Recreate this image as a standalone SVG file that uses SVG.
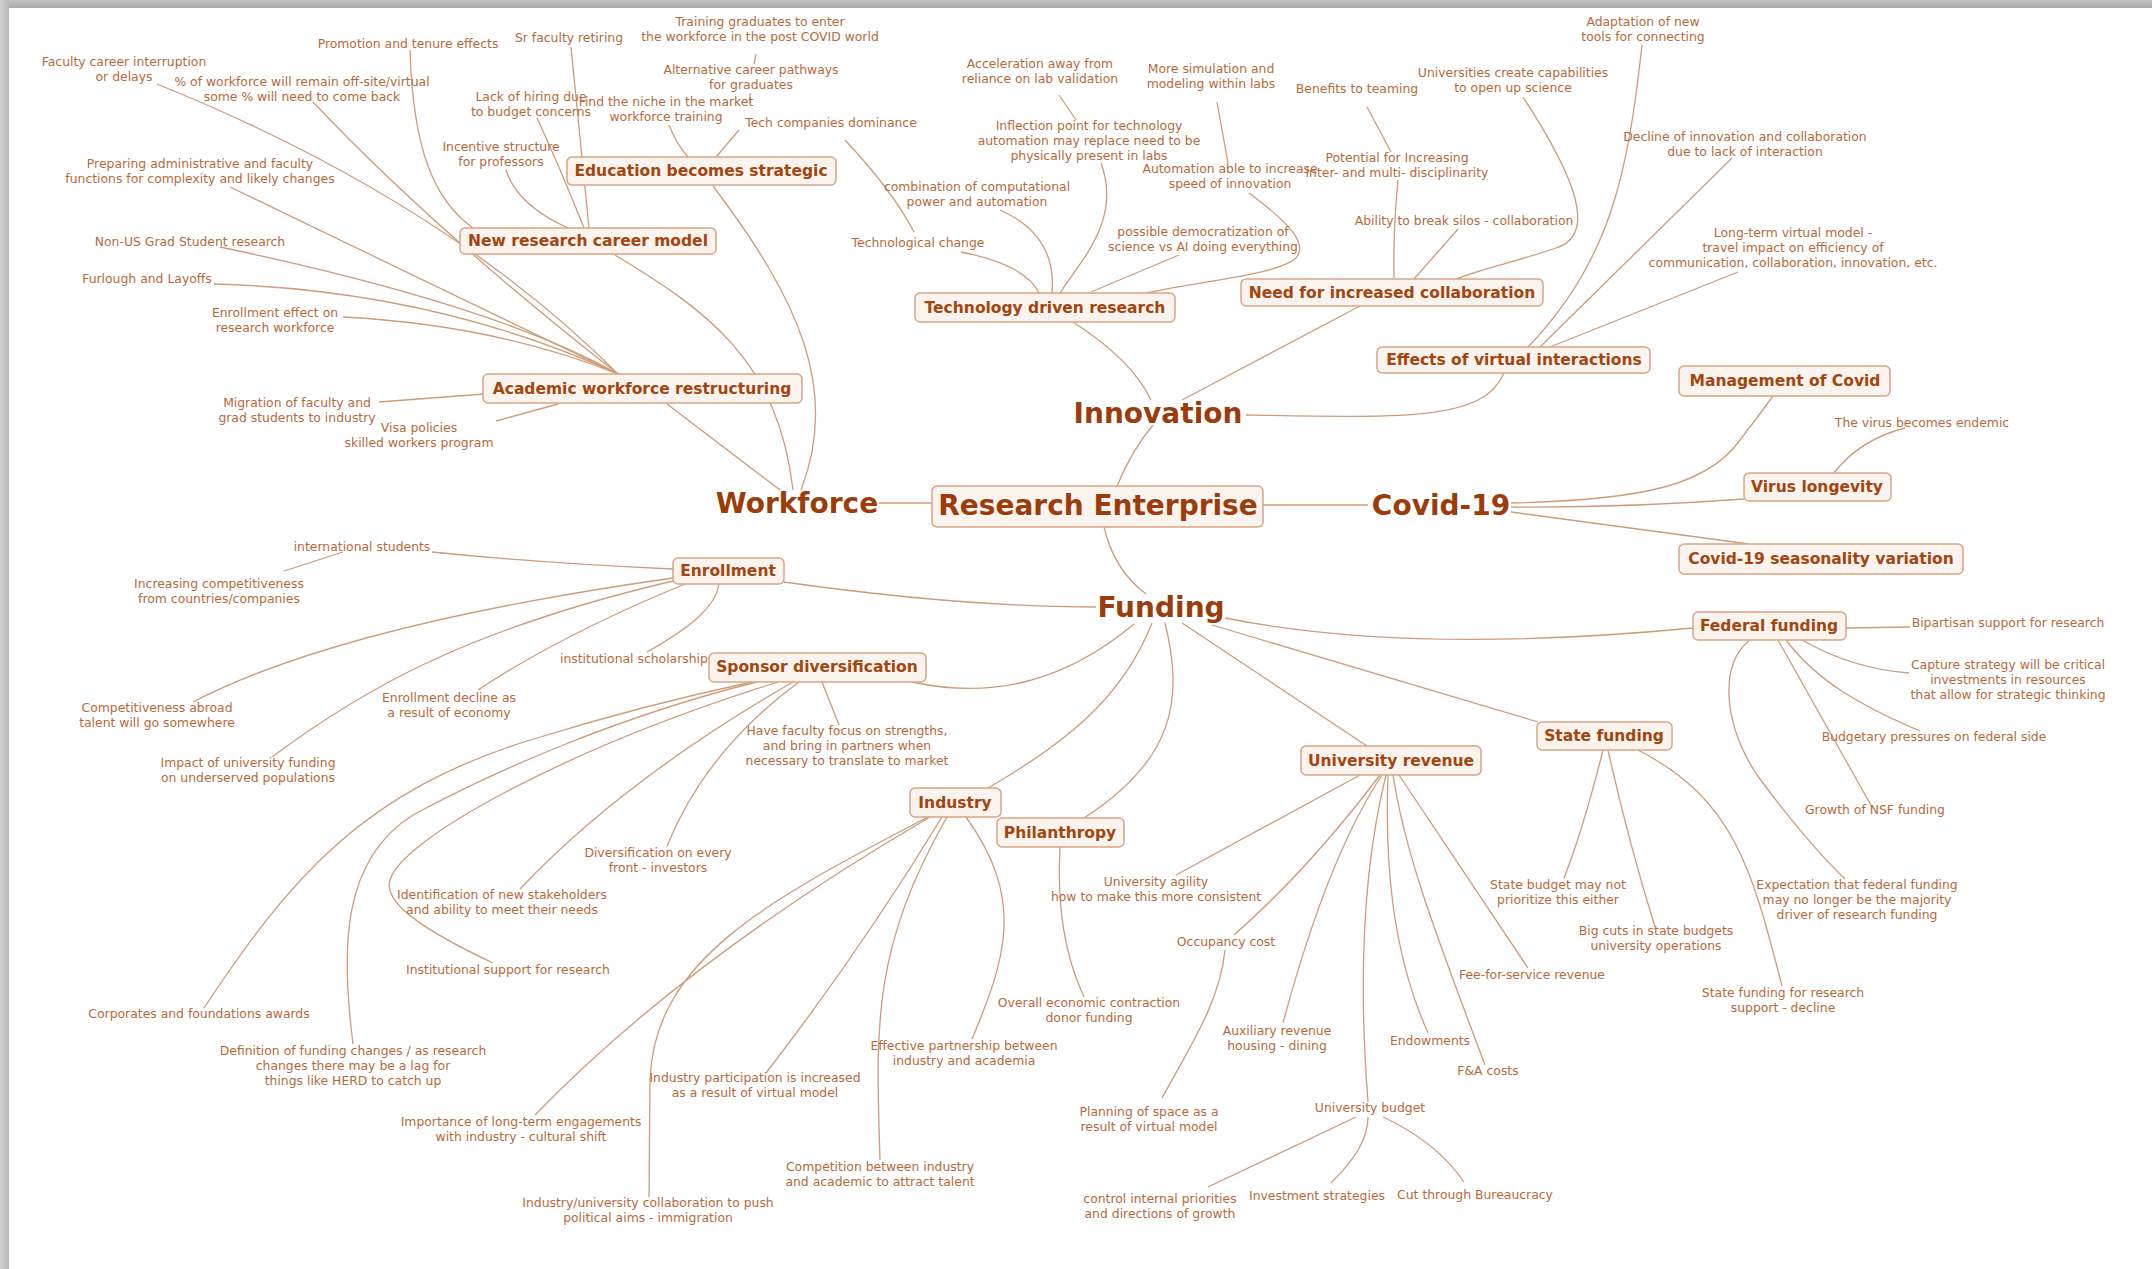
<svg xmlns="http://www.w3.org/2000/svg" width="2152" height="1269" viewBox="0 0 2152 1269">
<defs>
<linearGradient id="gTop" x1="0" y1="0" x2="0" y2="1"><stop offset="0" stop-color="#c4c4c4"/><stop offset="1" stop-color="#a9a9a9"/></linearGradient>
<linearGradient id="gLeft" x1="0" y1="0" x2="1" y2="0"><stop offset="0" stop-color="#d2d2d2"/><stop offset="1" stop-color="#b9b9b9"/></linearGradient>
</defs>
<style>
.leaf{font-family:"DejaVu Sans",Verdana,sans-serif;font-size:12.4px;fill:#b7693c;text-anchor:middle}
.sub{font-family:"DejaVu Sans",Verdana,sans-serif;font-size:15.5px;font-weight:bold;fill:#a3450f;text-anchor:middle}
.main{font-family:"DejaVu Sans",Verdana,sans-serif;font-size:28px;font-weight:bold;fill:#9b3c0a;text-anchor:middle}
.box{fill:#fbf3ee;stroke:#d8a585;stroke-width:1.5}
.c{fill:none;stroke:#cf9b79;stroke-width:1.3}
</style>
<rect x="0" y="0" width="2152" height="1269" fill="#ffffff"/>
<rect x="0" y="0" width="2152" height="8" fill="url(#gTop)"/>
<rect x="0" y="0" width="9" height="1269" fill="url(#gLeft)"/>

<g id="connectors">
<path class="c" d="M879,503 L932,503"/>
<path class="c" d="M1263,505 L1368,505"/>
<path class="c" d="M1117,486 Q1132,450 1153,425"/>
<path class="c" d="M1104,527 Q1114,570 1146,594"/>
<path class="c" d="M667,404 L780,490"/>
<path class="c" d="M615,255 C706,310 778,360 793,490"/>
<path class="c" d="M713,186 C799,300 840,390 801,490"/>
<path class="c" d="M157,84 Q444,200 618,374"/>
<path class="c" d="M313,102 Q434,230 618,374"/>
<path class="c" d="M230,187 L618,374"/>
<path class="c" d="M220,247 Q496,305 618,374"/>
<path class="c" d="M214,284 Q434,290 618,374"/>
<path class="c" d="M343,317 Q496,325 618,374"/>
<path class="c" d="M379,402 L484,394"/>
<path class="c" d="M496,421 L558,404"/>
<path class="c" d="M410,50 C413,150 434,200 473,228"/>
<path class="c" d="M571,47 L589,228"/>
<path class="c" d="M537,118 Q561,170 584,228"/>
<path class="c" d="M506,170 Q517,205 568,228"/>
<path class="c" d="M756,54 L754,64"/>
<path class="c" d="M750,93 L750,103"/>
<path class="c" d="M669,125 Q677,145 688,157"/>
<path class="c" d="M739,130 L716,157"/>
<path class="c" d="M845,140 Q892,190 914,232"/>
<path class="c" d="M961,252 Q1026,265 1039,293"/>
<path class="c" d="M1000,210 Q1057,235 1052,293"/>
<path class="c" d="M1101,163 C1122,220 1081,260 1060,293"/>
<path class="c" d="M1059,95 L1076,120"/>
<path class="c" d="M1217,102 L1228,163"/>
<path class="c" d="M1249,193 C1292,225 1308,245 1296,258 C1277,275 1205,280 1146,293"/>
<path class="c" d="M1179,255 L1091,292"/>
<path class="c" d="M1367,107 L1391,152"/>
<path class="c" d="M1398,180 Q1393,230 1394,279"/>
<path class="c" d="M1458,229 L1414,279"/>
<path class="c" d="M1523,97 C1577,180 1597,235 1556,248 C1515,262 1484,268 1456,279"/>
<path class="c" d="M1360,306 L1182,400"/>
<path class="c" d="M1073,322 Q1132,360 1151,400"/>
<path class="c" d="M1642,45 C1628,170 1612,260 1528,347"/>
<path class="c" d="M1732,158 L1540,347"/>
<path class="c" d="M1738,272 L1550,347"/>
<path class="c" d="M1246,415 C1411,418 1484,420 1504,373"/>
<path class="c" d="M1511,503 C1644,500 1708,485 1740,440 Q1757,418 1773,396"/>
<path class="c" d="M1511,507 Q1622,508 1744,499"/>
<path class="c" d="M1511,512 L1749,544"/>
<path class="c" d="M1834,473 Q1859,440 1905,428"/>
<path class="c" d="M1096,607 C1016,607 912,600 784,582"/>
<path class="c" d="M1134,624 C1067,680 995,700 912,682"/>
<path class="c" d="M1152,623 C1122,700 1062,745 988,788"/>
<path class="c" d="M1165,623 C1184,700 1174,760 1084,818"/>
<path class="c" d="M1182,623 L1367,746"/>
<path class="c" d="M1212,625 L1538,722"/>
<path class="c" d="M1225,618 Q1411,655 1693,628"/>
<path class="c" d="M432,552 Q540,563 673,569"/>
<path class="c" d="M284,571 L343,552"/>
<path class="c" d="M193,702 Q341,625 673,578"/>
<path class="c" d="M478,690 Q561,635 685,584"/>
<path class="c" d="M272,757 C362,690 465,630 673,581"/>
<path class="c" d="M647,652 C695,625 716,605 719,584"/>
<path class="c" d="M822,682 L839,725"/>
<path class="c" d="M799,682 Q706,750 667,846"/>
<path class="c" d="M520,889 Q623,780 793,682"/>
<path class="c" d="M493,963 C434,935 382,905 390,880 C401,840 561,750 778,682"/>
<path class="c" d="M204,1008 C289,880 362,790 537,738 Q644,705 752,682"/>
<path class="c" d="M353,1044 C341,950 341,860 413,815 C496,770 623,715 757,682"/>
<path class="c" d="M535,1115 Q685,960 930,817"/>
<path class="c" d="M649,1197 L650,1080 C654,960 768,900 928,817"/>
<path class="c" d="M766,1073 Q861,950 942,817"/>
<path class="c" d="M880,1160 C876,1030 871,950 947,817"/>
<path class="c" d="M972,1039 C1005,960 1026,900 966,817"/>
<path class="c" d="M1084,997 C1062,950 1057,900 1060,847"/>
<path class="c" d="M1176,875 L1360,775"/>
<path class="c" d="M1234,935 Q1308,870 1380,775"/>
<path class="c" d="M1162,1098 C1194,1040 1220,1000 1225,950"/>
<path class="c" d="M1283,1023 C1308,930 1339,840 1382,775"/>
<path class="c" d="M1368,1102 C1360,1000 1360,880 1386,775"/>
<path class="c" d="M1428,1033 C1391,950 1385,860 1388,775"/>
<path class="c" d="M1485,1065 C1442,950 1406,860 1393,775"/>
<path class="c" d="M1528,968 Q1463,870 1399,775"/>
<path class="c" d="M1208,1187 L1356,1117"/>
<path class="c" d="M1331,1183 C1354,1160 1368,1140 1368,1117"/>
<path class="c" d="M1464,1182 C1442,1150 1411,1130 1383,1117"/>
<path class="c" d="M1564,878 C1575,850 1588,810 1603,750"/>
<path class="c" d="M1655,927 Q1628,840 1608,750"/>
<path class="c" d="M1782,986 C1752,870 1735,800 1638,750"/>
<path class="c" d="M1846,628 L1910,627"/>
<path class="c" d="M1802,640 C1837,660 1870,670 1909,673"/>
<path class="c" d="M1786,640 C1816,680 1859,705 1920,731"/>
<path class="c" d="M1778,640 L1872,807"/>
<path class="c" d="M1749,641 C1721,662 1721,720 1757,775 Q1805,840 1845,879"/>
</g>

<g id="leaves-workforce">
<text id="l-faculty" class="leaf" x="124" y="66"><tspan x="124">Faculty career interruption</tspan><tspan x="124" dy="15">or delays</tspan></text>
<text id="l-offsite" class="leaf" x="302" y="86"><tspan x="302">% of workforce will remain off-site/virtual</tspan><tspan x="302" dy="15">some % will need to come back</tspan></text>
<text id="l-promotion" class="leaf" x="408" y="48">Promotion and tenure effects</text>
<text id="l-retiring" class="leaf" x="569" y="42">Sr faculty retiring</text>
<text id="l-hiring" class="leaf" x="531" y="101"><tspan x="531">Lack of hiring due</tspan><tspan x="531" dy="15">to budget concerns</tspan></text>
<text id="l-incentive" class="leaf" x="501" y="151"><tspan x="501">Incentive structure</tspan><tspan x="501" dy="15">for professors</tspan></text>
<text id="l-preparing" class="leaf" x="200" y="168"><tspan x="200">Preparing administrative and faculty</tspan><tspan x="200" dy="15">functions for complexity and likely changes</tspan></text>
<text id="l-nonus" class="leaf" x="190" y="246">Non-US Grad Student research</text>
<text id="l-furlough" class="leaf" x="147" y="283">Furlough and Layoffs</text>
<text id="l-enrolleff" class="leaf" x="275" y="317"><tspan x="275">Enrollment effect on</tspan><tspan x="275" dy="15">research workforce</tspan></text>
<text id="l-migration" class="leaf" x="297" y="407"><tspan x="297">Migration of faculty and</tspan><tspan x="297" dy="15">grad students to industry</tspan></text>
<text id="l-visa" class="leaf" x="419" y="432"><tspan x="419">Visa policies</tspan><tspan x="419" dy="15">skilled workers program</tspan></text>
<text id="l-training" class="leaf" x="760" y="26"><tspan x="760">Training graduates to enter</tspan><tspan x="760" dy="15">the workforce in the post COVID world</tspan></text>
<text id="l-alt" class="leaf" x="751" y="74"><tspan x="751">Alternative career pathways</tspan><tspan x="751" dy="15">for graduates</tspan></text>
<text id="l-niche" class="leaf" x="666" y="106"><tspan x="666">Find the niche in the market</tspan><tspan x="666" dy="15">workforce training</tspan></text>
<text id="l-techco" class="leaf" x="831" y="127">Tech companies dominance</text>
</g>

<g id="leaves-innovation">
<text id="l-accel" class="leaf" x="1040" y="68"><tspan x="1040">Acceleration away from</tspan><tspan x="1040" dy="15">reliance on lab validation</tspan></text>
<text id="l-inflection" class="leaf" x="1089" y="130"><tspan x="1089">Inflection point for technology</tspan><tspan x="1089" dy="15">automation may replace need to be</tspan><tspan x="1089" dy="15">physically present in labs</tspan></text>
<text id="l-combination" class="leaf" x="977" y="191"><tspan x="977">combination of computational</tspan><tspan x="977" dy="15">power and automation</tspan></text>
<text id="l-techchange" class="leaf" x="918" y="247">Technological change</text>
<text id="l-simulation" class="leaf" x="1211" y="73"><tspan x="1211">More simulation and</tspan><tspan x="1211" dy="15">modeling within labs</tspan></text>
<text id="l-automation" class="leaf" x="1230" y="173"><tspan x="1230">Automation able to increase</tspan><tspan x="1230" dy="15">speed of innovation</tspan></text>
<text id="l-democ" class="leaf" x="1203" y="236"><tspan x="1203">possible democratization of</tspan><tspan x="1203" dy="15">science vs AI doing everything</tspan></text>
<text id="l-teaming" class="leaf" x="1357" y="93">Benefits to teaming</text>
<text id="l-potential" class="leaf" x="1397" y="162"><tspan x="1397">Potential for Increasing</tspan><tspan x="1397" dy="15">inter- and multi- disciplinarity</tspan></text>
<text id="l-silos" class="leaf" x="1464" y="225">Ability to break silos - collaboration</text>
<text id="l-univcap" class="leaf" x="1513" y="77"><tspan x="1513">Universities create capabilities</tspan><tspan x="1513" dy="15">to open up science</tspan></text>
<text id="l-adapt" class="leaf" x="1643" y="26"><tspan x="1643">Adaptation of new</tspan><tspan x="1643" dy="15">tools for connecting</tspan></text>
<text id="l-decline" class="leaf" x="1745" y="141"><tspan x="1745">Decline of innovation and collaboration</tspan><tspan x="1745" dy="15">due to lack of interaction</tspan></text>
<text id="l-longterm" class="leaf" x="1793" y="237"><tspan x="1793">Long-term virtual model -</tspan><tspan x="1793" dy="15">travel impact on efficiency of</tspan><tspan x="1793" dy="15">communication, collaboration, innovation, etc.</tspan></text>
<text id="l-endemic" class="leaf" x="1922" y="427">The virus becomes endemic</text>
</g>

<g id="leaves-funding">
<text id="l-intl" class="leaf" x="362" y="551">international students</text>
<text id="l-incomp" class="leaf" x="219" y="588"><tspan x="219">Increasing competitiveness</tspan><tspan x="219" dy="15">from countries/companies</tspan></text>
<text id="l-abroad" class="leaf" x="157" y="712"><tspan x="157">Competitiveness abroad</tspan><tspan x="157" dy="15">talent will go somewhere</tspan></text>
<text id="l-enrdecl" class="leaf" x="449" y="702"><tspan x="449">Enrollment decline as</tspan><tspan x="449" dy="15">a result of economy</tspan></text>
<text id="l-impact" class="leaf" x="248" y="767"><tspan x="248">Impact of university funding</tspan><tspan x="248" dy="15">on underserved populations</tspan></text>
<text id="l-scholar" class="leaf" x="560" y="663" style="text-anchor:start">institutional scholarships</text>
<text id="l-havefac" class="leaf" x="847" y="735"><tspan x="847">Have faculty focus on strengths,</tspan><tspan x="847" dy="15">and bring in partners when</tspan><tspan x="847" dy="15">necessary to translate to market</tspan></text>
<text id="l-divers" class="leaf" x="658" y="857"><tspan x="658">Diversification on every</tspan><tspan x="658" dy="15">front - investors</tspan></text>
<text id="l-ident" class="leaf" x="502" y="899"><tspan x="502">Identification of new stakeholders</tspan><tspan x="502" dy="15">and ability to meet their needs</tspan></text>
<text id="l-instsup" class="leaf" x="508" y="974">Institutional support for research</text>
<text id="l-corp" class="leaf" x="199" y="1018">Corporates and foundations awards</text>
<text id="l-defn" class="leaf" x="353" y="1055"><tspan x="353">Definition of funding changes / as research</tspan><tspan x="353" dy="15">changes there may be a lag for</tspan><tspan x="353" dy="15">things like HERD to catch up</tspan></text>
<text id="l-longeng" class="leaf" x="521" y="1126"><tspan x="521">Importance of long-term engagements</tspan><tspan x="521" dy="15">with industry - cultural shift</tspan></text>
<text id="l-indcollab" class="leaf" x="648" y="1207"><tspan x="648">Industry/university collaboration to push</tspan><tspan x="648" dy="15">political aims - immigration</tspan></text>
<text id="l-indpart" class="leaf" x="755" y="1082"><tspan x="755">Industry participation is increased</tspan><tspan x="755" dy="15">as a result of virtual model</tspan></text>
<text id="l-compet" class="leaf" x="880" y="1171"><tspan x="880">Competition between industry</tspan><tspan x="880" dy="15">and academic to attract talent</tspan></text>
<text id="l-effpart" class="leaf" x="964" y="1050"><tspan x="964">Effective partnership between</tspan><tspan x="964" dy="15">industry and academia</tspan></text>
<text id="l-overall" class="leaf" x="1089" y="1007"><tspan x="1089">Overall economic contraction</tspan><tspan x="1089" dy="15">donor funding</tspan></text>
<text id="l-agility" class="leaf" x="1156" y="886"><tspan x="1156">University agility</tspan><tspan x="1156" dy="15">how to make this more consistent</tspan></text>
<text id="l-occupancy" class="leaf" x="1226" y="946">Occupancy cost</text>
<text id="l-planning" class="leaf" x="1149" y="1116"><tspan x="1149">Planning of space as a</tspan><tspan x="1149" dy="15">result of virtual model</tspan></text>
<text id="l-aux" class="leaf" x="1277" y="1035"><tspan x="1277">Auxiliary revenue</tspan><tspan x="1277" dy="15">housing - dining</tspan></text>
<text id="l-budget" class="leaf" x="1370" y="1112">University budget</text>
<text id="l-endow" class="leaf" x="1430" y="1045">Endowments</text>
<text id="l-fa" class="leaf" x="1488" y="1075">F&amp;A costs</text>
<text id="l-fee" class="leaf" x="1532" y="979">Fee-for-service revenue</text>
<text id="l-control" class="leaf" x="1160" y="1203"><tspan x="1160">control internal priorities</tspan><tspan x="1160" dy="15">and directions of growth</tspan></text>
<text id="l-invest" class="leaf" x="1317" y="1200">Investment strategies</text>
<text id="l-cut" class="leaf" x="1475" y="1199">Cut through Bureaucracy</text>
<text id="l-statebud" class="leaf" x="1558" y="889"><tspan x="1558">State budget may not</tspan><tspan x="1558" dy="15">prioritize this either</tspan></text>
<text id="l-bigcuts" class="leaf" x="1656" y="935"><tspan x="1656">Big cuts in state budgets</tspan><tspan x="1656" dy="15">university operations</tspan></text>
<text id="l-statefr" class="leaf" x="1783" y="997"><tspan x="1783">State funding for research</tspan><tspan x="1783" dy="15">support - decline</tspan></text>
<text id="l-bipart" class="leaf" x="2008" y="627">Bipartisan support for research</text>
<text id="l-capture" class="leaf" x="2008" y="669"><tspan x="2008">Capture strategy will be critical</tspan><tspan x="2008" dy="15">investments in resources</tspan><tspan x="2008" dy="15">that allow for strategic thinking</tspan></text>
<text id="l-budgetary" class="leaf" x="1934" y="741">Budgetary pressures on federal side</text>
<text id="l-nsf" class="leaf" x="1875" y="814">Growth of NSF funding</text>
<text id="l-expect" class="leaf" x="1857" y="889"><tspan x="1857">Expectation that federal funding</tspan><tspan x="1857" dy="15">may no longer be the majority</tspan><tspan x="1857" dy="15">driver of research funding</tspan></text>
</g>

<g id="n-central"><rect class="box" x="932" y="486" width="331" height="41" rx="5"/><text class="main" x="1098" y="515">Research Enterprise</text></g>
<g id="n-workforce"><text class="main" x="797" y="513">Workforce</text></g>
<g id="n-innovation"><text class="main" x="1158" y="423">Innovation</text></g>
<g id="n-covid"><text class="main" x="1441" y="515">Covid-19</text></g>
<g id="n-funding"><text class="main" x="1161" y="617">Funding</text></g>

<g id="n-education"><rect class="box" x="567" y="157" width="269" height="28" rx="5"/><text class="sub" x="701" y="176">Education becomes strategic</text></g>
<g id="n-newcareer"><rect class="box" x="460" y="228" width="256" height="26" rx="5"/><text class="sub" x="588" y="246">New research career model</text></g>
<g id="n-academic"><rect class="box" x="483" y="374" width="319" height="29" rx="5"/><text class="sub" x="642" y="394">Academic workforce restructuring</text></g>
<g id="n-tech"><rect class="box" x="915" y="293" width="260" height="29" rx="5"/><text class="sub" x="1045" y="313">Technology driven research</text></g>
<g id="n-collab"><rect class="box" x="1241" y="279" width="302" height="27" rx="5"/><text class="sub" x="1392" y="298">Need for increased collaboration</text></g>
<g id="n-virtual"><rect class="box" x="1377" y="347" width="273" height="26" rx="5"/><text class="sub" x="1514" y="365">Effects of virtual interactions</text></g>
<g id="n-mgmt"><rect class="box" x="1679" y="366" width="211" height="30" rx="5"/><text class="sub" x="1785" y="386">Management of Covid</text></g>
<g id="n-longevity"><rect class="box" x="1744" y="473" width="147" height="28" rx="5"/><text class="sub" x="1817" y="492">Virus longevity</text></g>
<g id="n-season"><rect class="box" x="1679" y="544" width="284" height="30" rx="5"/><text class="sub" x="1821" y="564">Covid-19 seasonality variation</text></g>
<g id="n-enroll"><rect class="box" x="673" y="558" width="111" height="26" rx="5"/><text class="sub" x="728" y="576">Enrollment</text></g>
<g id="n-sponsor"><rect class="box" x="709" y="653" width="217" height="29" rx="5"/><text class="sub" x="817" y="672">Sponsor diversification</text></g>
<g id="n-federal"><rect class="box" x="1693" y="612" width="153" height="28" rx="5"/><text class="sub" x="1769" y="631">Federal funding</text></g>
<g id="n-state"><rect class="box" x="1537" y="722" width="135" height="28" rx="5"/><text class="sub" x="1604" y="741">State funding</text></g>
<g id="n-univrev"><rect class="box" x="1301" y="746" width="180" height="29" rx="5"/><text class="sub" x="1391" y="766">University revenue</text></g>
<g id="n-industry"><rect class="box" x="910" y="788" width="91" height="29" rx="5"/><text class="sub" x="955" y="808">Industry</text></g>
<g id="n-philanthropy"><rect class="box" x="997" y="818" width="127" height="29" rx="5"/><text class="sub" x="1060" y="838">Philanthropy</text></g>
</svg>
